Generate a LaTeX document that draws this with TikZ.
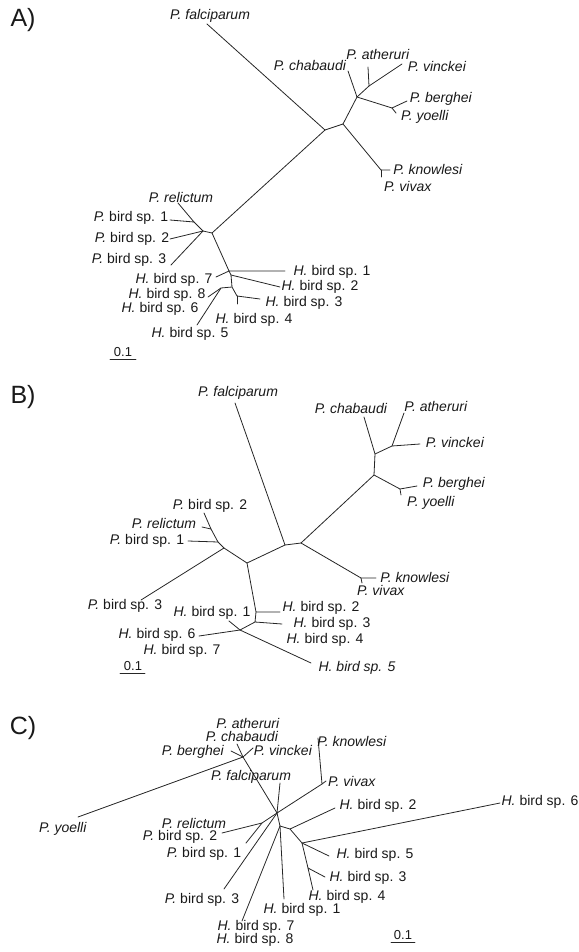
\documentclass[tikz,border=0pt]{standalone}
\usepackage{fontspec}
\setmainfont{Liberation Sans}
\newcommand\pbird[1]{\textit{P.} bird sp. #1}
\newcommand\hbird[1]{\textit{H.} bird sp. #1}
\begin{document}
\begin{tikzpicture}[x=1pt,y=-1pt,
  br/.style={line width=0.8pt, draw=black!85, line cap=round},
  lab/.style={font=\fontsize{14}{16}\selectfont, inner sep=0pt, text=black!90},
  sc/.style={font=\fontsize{13}{15}\selectfont, inner sep=0pt, text=black!90},
  pan/.style={font=\fontsize{25}{28}\selectfont, inner sep=0pt, text=black!90}]
\useasboundingbox (0,0) rectangle (578,952);

% ================= Panel A =================
\node[pan] (pA) at (23,20) {A)};
\coordinate (A1) at (325,130);
\coordinate (A2) at (343,124);
\coordinate (A3) at (357,97);
\coordinate (A4) at (369,86);
\coordinate (A5) at (392,108);
\coordinate (A6) at (381,170);
\coordinate (A7) at (212,233);
\coordinate (A7b) at (203,231);
\coordinate (A7c) at (194,222);
\coordinate (A8) at (229,271);
\coordinate (A9) at (231,275);
\coordinate (A10) at (232,287);
\coordinate (A11) at (237,296);
\coordinate (A12) at (221,288);
\coordinate (aFal) at (207,24);
\coordinate (aCha) at (348,71);
\coordinate (aAth) at (368,67);
\coordinate (aVin) at (402,64);
\coordinate (aBer) at (407,101);
\coordinate (aYoe) at (396,113);
\coordinate (aKno) at (390,170);
\coordinate (aViv) at (381,177);
\coordinate (aRel) at (178,203);
\coordinate (aB1) at (170,220);
\coordinate (aB2) at (170,239);
\coordinate (aB3) at (171,265);
\coordinate (aH1) at (285,271);
\coordinate (aH2) at (280,287);
\coordinate (aH3) at (260,299);
\coordinate (aH4) at (237,304);
\coordinate (aH7) at (216,277);
\coordinate (aH8) at (208,297);
\coordinate (aH5) at (197,325);
\draw[br] (aFal) -- (A1) -- (A2) -- (A3) -- (aCha);
\draw[br] (A3) -- (A4) -- (aAth);
\draw[br] (A4) -- (aVin);
\draw[br] (A3) -- (A5) -- (aBer);
\draw[br] (A5) -- (aYoe);
\draw[br] (A2) -- (A6) -- (aKno);
\draw[br] (A6) -- (aViv);
\draw[br] (A1) -- (A7) -- (A7b) -- (A7c) -- (aRel);
\draw[br] (A7c) -- (aB1);
\draw[br] (A7b) -- (aB2);
\draw[br] (A7b) -- (aB3);
\draw[br] (A7) -- (A8) -- (aH1);
\draw[br] (A8) -- (aH7);
\draw[br] (A8) -- (A9) -- (aH2);
\draw[br] (A9) -- (A10) -- (A11) -- (aH3);
\draw[br] (A11) -- (aH4);
\draw[br] (A10) -- (A12) -- (aH8);
\draw[br] (A12) -- (aH5);
\node[lab] (tAfal) at (210,16) {\textit{P. falciparum}};
\node[lab] (tAath) at (378,54) {\textit{P. atheruri}};
\node[lab] (tAcha) at (310,66) {\textit{P. chabaudi}};
\node[lab] (tAvin) at (437,66) {\textit{P. vinckei}};
\node[lab] (tAber) at (441,99) {\textit{P. berghei}};
\node[lab] (tAyoe) at (425,117) {\textit{P. yoelli}};
\node[lab] (tAkno) at (428,169) {\textit{P. knowlesi}};
\node[lab] (tAviv) at (408,186) {\textit{P. vivax}};
\node[lab] (tArel) at (181,197) {\textit{P. relictum}};
\node[lab] (tAb1) at (131,218) {\pbird{1}};
\node[lab] (tAb2) at (132,239) {\pbird{2}};
\node[lab] (tAb3) at (129,260) {\pbird{3}};
\node[lab] (tAh1) at (332,272) {\hbird{1}};
\node[lab] (tAh2) at (320,287) {\hbird{2}};
\node[lab] (tAh3) at (304,303) {\hbird{3}};
\node[lab] (tAh4) at (254,320) {\hbird{4}};
\node[lab] (tAh7) at (174,280) {\hbird{7}};
\node[lab] (tAh8) at (167,295) {\hbird{8}};
\node[lab] (tAh6) at (160,309) {\hbird{6}};
\node[lab] (tAh5) at (190,334) {\hbird{5}};
\coordinate (sA1) at (110,359);
\coordinate (sA2) at (136,359);
\draw[br] (sA1) -- (sA2);
\node[sc] (tAsc) at (123,352) {0.1};

% ================= Panel B =================
\node[pan] (pB) at (23,397) {B)};
\coordinate (B1) at (285,545);
\coordinate (B2) at (301,543);
\coordinate (B3) at (247,563);
\coordinate (B4) at (224,548);
\coordinate (B5) at (218,542);
\coordinate (B6) at (211,529);
\coordinate (B7) at (256,612);
\coordinate (B8) at (255,622);
\coordinate (B9) at (240,630);
\coordinate (R1) at (374,475);
\coordinate (R2) at (375,454);
\coordinate (R3) at (392,446);
\coordinate (R4) at (400,489);
\coordinate (R5) at (361,578);
\coordinate (bFal) at (235,403);
\coordinate (bCha) at (364,417);
\coordinate (bAth) at (404,413);
\coordinate (bVin) at (420,444);
\coordinate (bBer) at (417,486);
\coordinate (bYoe) at (401,495);
\coordinate (bKno) at (376,578);
\coordinate (bViv) at (362,583);
\coordinate (bRel) at (202,527);
\coordinate (bB2) at (204,513);
\coordinate (bB1) at (188,541);
\coordinate (bB3) at (141,600);
\coordinate (bH2) at (280,612);
\coordinate (bH3) at (282,624);
\coordinate (bH1) at (229,621);
\coordinate (bH6) at (199,636);
\coordinate (bH5) at (311,663);
\draw[br] (bFal) -- (B1) -- (B2) -- (R1) -- (R2) -- (bCha);
\draw[br] (R2) -- (R3) -- (bAth);
\draw[br] (R3) -- (bVin);
\draw[br] (R1) -- (R4) -- (bBer);
\draw[br] (R4) -- (bYoe);
\draw[br] (B2) -- (R5) -- (bKno);
\draw[br] (R5) -- (bViv);
\draw[br] (B1) -- (B3) -- (B4) -- (bB3);
\draw[br] (B4) -- (B5) -- (bB1);
\draw[br] (B5) -- (B6) -- (bRel);
\draw[br] (B6) -- (bB2);
\draw[br] (B3) -- (B7) -- (bH2);
\draw[br] (B7) -- (B8) -- (bH3);
\draw[br] (B8) -- (B9) -- (bH1);
\draw[br] (B9) -- (bH6);
\draw[br] (B9) -- (bH5);
\node[lab] (tBfal) at (238,393) {\textit{P. falciparum}};
\node[lab] (tBcha) at (351,408) {\textit{P. chabaudi}};
\node[lab] (tBath) at (436,406) {\textit{P. atheruri}};
\node[lab] (tBvin) at (455,442) {\textit{P. vinckei}};
\node[lab] (tBber) at (454,484) {\textit{P. berghei}};
\node[lab] (tByoe) at (431,503) {\textit{P. yoelli}};
\node[lab] (tBb2) at (210,506) {\pbird{2}};
\node[lab] (tBrel) at (164,523) {\textit{P. relictum}};
\node[lab] (tBb1) at (147,541) {\pbird{1}};
\node[lab] (tBkno) at (415,577) {\textit{P. knowlesi}};
\node[lab] (tBviv) at (381,590) {\textit{P. vivax}};
\node[lab] (tBb3) at (125,606) {\pbird{3}};
\node[lab] (tBh1) at (212,613) {\hbird{1}};
\node[lab] (tBh2) at (321,608) {\hbird{2}};
\node[lab] (tBh3) at (332,624) {\hbird{3}};
\node[lab] (tBh4) at (325,640) {\hbird{4}};
\node[lab] (tBh6) at (157,635) {\hbird{6}};
\node[lab] (tBh7) at (182,651) {\hbird{7}};
\node[lab] (tBh5) at (357,668) {\textit{H. bird sp. 5}};
\coordinate (sB1) at (120,673);
\coordinate (sB2) at (145,673);
\draw[br] (sB1) -- (sB2);
\node[sc] (tBsc) at (133,666) {0.1};

% ================= Panel C =================
\node[pan] (pC) at (23,728) {C)};
\coordinate (C1) at (277,813);
\coordinate (CV) at (322,784);
\coordinate (CR) at (243,757);
\coordinate (CP) at (262,823);
\coordinate (H0) at (280,826);
\coordinate (HB) at (290,829);
\coordinate (HC) at (302,843);
\coordinate (HD) at (308,868);
\coordinate (cFal) at (280,783);
\coordinate (cKno) at (318,738);
\coordinate (cViv) at (326,781);
\coordinate (cBer) at (231,751);
\coordinate (cCha) at (237,744);
\coordinate (cVin) at (253,748);
\coordinate (cYoe) at (78,817);
\coordinate (cB2) at (222,833);
\coordinate (cB1) at (246,843);
\coordinate (cB3) at (224,889);
\coordinate (cH1) at (284,899);
\coordinate (cH7) at (242,921);
\coordinate (cH2) at (335,808);
\coordinate (cH6) at (500,803);
\coordinate (cH5) at (329,856);
\coordinate (cH3) at (325,877);
\coordinate (cH4) at (313,890);
\draw[br] (C1) -- (cFal);
\draw[br] (C1) -- (CV) -- (cKno);
\draw[br] (CV) -- (cViv);
\draw[br] (C1) -- (CR) -- (cBer);
\draw[br] (CR) -- (cCha);
\draw[br] (CR) -- (cVin);
\draw[br] (CR) -- (cYoe);
\draw[br] (C1) -- (CP) -- (cB2);
\draw[br] (CP) -- (cB1);
\draw[br] (C1) -- (cB3);
\draw[br] (C1) -- (H0) -- (cH1);
\draw[br] (H0) -- (cH7);
\draw[br] (H0) -- (HB) -- (cH2);
\draw[br] (HB) -- (HC) -- (cH6);
\draw[br] (HC) -- (cH5);
\draw[br] (HC) -- (HD) -- (cH3);
\draw[br] (HD) -- (cH4);
\node[lab] (tCath) at (248,723) {\textit{P. atheruri}};
\node[lab] (tCcha) at (242,736) {\textit{P. chabaudi}};
\node[lab] (tCber) at (193,752) {\textit{P. berghei}};
\node[lab] (tCvin) at (283,750) {\textit{P. vinckei}};
\node[lab] (tCkno) at (352,741) {\textit{P. knowlesi}};
\node[lab] (tCfal) at (251,777) {\textit{P. falciparum}};
\node[lab] (tCviv) at (352,781) {\textit{P. vivax}};
\node[lab] (tCh2) at (378,806) {\hbird{2}};
\node[lab] (tCh6) at (540,802) {\hbird{6}};
\node[lab] (tCrel) at (194,823) {\textit{P. relictum}};
\node[lab] (tCb2) at (180,837) {\pbird{2}};
\node[lab] (tCyoe) at (63,829) {\textit{P. yoelli}};
\node[lab] (tCb1) at (204,854) {\pbird{1}};
\node[lab] (tCh5) at (375,855) {\hbird{5}};
\node[lab] (tCh3) at (368,878) {\hbird{3}};
\node[lab] (tCh4) at (347,897) {\hbird{4}};
\node[lab] (tCb3) at (202,900) {\pbird{3}};
\node[lab] (tCh1) at (302,910) {\hbird{1}};
\node[lab] (tCh7) at (256,927) {\hbird{7}};
\node[lab] (tCh8) at (255,940) {\hbird{8}};
\coordinate (sC1) at (391,942);
\coordinate (sC2) at (415,942);
\draw[br] (sC1) -- (sC2);
\node[sc] (tCsc) at (403,935) {0.1};
\end{tikzpicture}
\end{document}
